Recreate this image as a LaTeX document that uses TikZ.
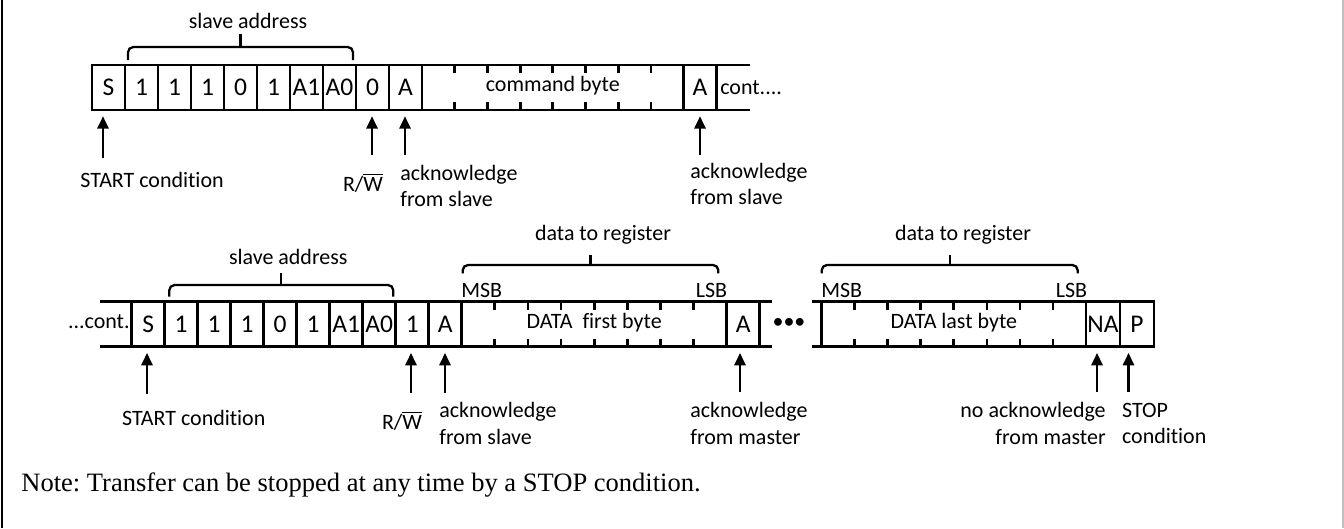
\documentclass[tikz,border=0pt]{standalone}
\usepackage{fontspec}
\setmainfont{Carlito}[Ligatures=NoCommon]
\newfontfamily\notefont{Liberation Serif}
\usetikzlibrary{arrows.meta}
\frenchspacing
\tikzset{
  bit/.style={draw,line width=1.6pt,minimum width=0.66cm,minimum height=0.9cm,inner sep=0pt,outer sep=0pt,font=\fontsize{14.5}{17}\selectfont},
  field/.style={minimum height=0.9cm,inner sep=0pt,outer sep=0pt,font=\fontsize{12.5}{15}\selectfont},
  rail/.style={line width=1.6pt},
  brk/.style={line width=1.3pt,rounded corners=3pt},
  arr/.style={line width=1.6pt,shorten >=3.5pt,-{Triangle[length=0.25cm,width=0.22cm]}},
  lbl/.style={font=\fontsize{12.5}{15}\selectfont,inner sep=0pt,align=left},
}
\begin{document}
\begin{tikzpicture}[x=0.02cm,y=-0.02cm]
\useasboundingbox (0,0) rectangle (1344,528);
\draw[line width=1.2pt] (2,0) -- (2,528);
\draw[line width=1pt,black!25] (1343,0) -- (1343,528);
\draw[rail] (92,65) -- (750,65);
\draw[rail] (92,110) -- (750,110);
\foreach \b [count=\i from 0] in {S,1,1,1,0,1,A1,A0,0,A}
  \node[bit] (t\i) at ({108.5+33*\i},87.5) {\b};
\node[field,minimum width=5.232cm] (tcmd) at (552.8,86) {command byte};
\foreach \k in {1,...,7}
  \draw[rail] ({422+32.7*\k},65) -- ++(0,8) ({422+32.7*\k},110) -- ++(0,-8);
\node[bit] (tack) at (700.1,87.5) {A};
\node[lbl,anchor=west] (tcont) at (720,88) {cont....};
\draw[brk] (128,60) |- (240.5,47) -| (353,60);
\draw[brk] (240.5,47) -- (240.5,34);
\node[lbl] (taddr) at (248,21) {slave address};
\coordinate (ta1) at (103,158);
\coordinate (ta2) at (372,155);
\coordinate (ta3) at (405,155);
\coordinate (ta4) at (700,155);
\draw[arr] (ta1) -- (ta1 |- t0.south);
\draw[arr] (ta2) -- (ta2 |- t8.south);
\draw[arr] (ta3) -- (ta3 |- t9.south);
\draw[arr] (ta4) -- (ta4 |- tack.south);
\node[lbl,anchor=west] (tstart) at (80,180) {START condition};
\node[lbl] (trw) at (363,183) {R/$\overline{\mbox{W}}$};
\node[lbl,anchor=west] (tslv1) at (400,186) {acknowledge\\from slave};
\node[lbl,anchor=west] (tslv2) at (690,184) {acknowledge\\from slave};
\draw[rail] (100,301.7) -- (771.7,301.7);
\draw[rail] (100,346.7) -- (771.7,346.7);
\node[lbl,anchor=east] (bcont) at (130,322) {...cont.};
\foreach \b [count=\i from 0] in {S,1,1,1,0,1,A1,A0,1,A}
  \node[bit] (b\i) at ({148.2+33*\i},324.2) {\b};
\node[field,minimum width=5.3cm] (bdat1) at (594.2,323) {DATA\ \ first byte};
\foreach \k in {1,...,7}
  \draw[rail] ({461.7+33.1*\k},301.7) -- ++(0,8) ({461.7+33.1*\k},346.7) -- ++(0,-8);
\node[bit] (back) at (743.3,324.2) {A};
\node[lbl] (bdots) at (789,323) {•••};
\draw[rail] (811.7,301.7) -- (1154,301.7);
\draw[rail] (811.7,346.7) -- (1154,346.7);
\node[field,minimum width=5.286cm] (bdat2) at (953.85,323) {DATA last byte};
\draw[rail] (bdat2.north west |- 0,301.7) -- (bdat2.south west |- 0,346.7);
\foreach \k in {1,...,7}
  \draw[rail] ({821.7+33.04*\k},301.7) -- ++(0,8) ({821.7+33.04*\k},346.7) -- ++(0,-8);
\node[bit,minimum width=0.68cm] (bna) at (1103,324.2) {NA};
\node[bit,minimum width=0.68cm] (bp) at (1137,324.2) {P};
\draw[brk] (169.3,296.7) |- (281.3,285) -| (393.3,296.7);
\draw[brk] (281.3,285) -- (281.3,273);
\node[lbl] (baddr) at (288.3,256.7) {slave address};
\draw[brk] (462.7,273.3) |- (590.5,265) -| (718.3,273.3);
\draw[brk] (590.5,265) -- (590.5,255);
\node[lbl] (breg1) at (603,235) {data to register};
\draw[brk] (821.7,273.3) |- (949.7,265) -| (1077.7,273.3);
\draw[brk] (949.7,265) -- (949.7,255);
\node[lbl] (breg2) at (963,235) {data to register};
\node[lbl,anchor=west] (bmsb1) at (461,290) {MSB};
\node[lbl,anchor=east] (blsb1) at (727.5,290) {LSB};
\node[lbl,anchor=west] (bmsb2) at (821,290) {MSB};
\node[lbl,anchor=east] (blsb2) at (1087.5,290) {LSB};
\coordinate (ba1) at (147,394);
\coordinate (ba2) at (411,393);
\coordinate (ba3) at (445,393);
\coordinate (ba4) at (740,392);
\coordinate (ba5) at (1097,392);
\coordinate (ba6) at (1128.5,392);
\draw[arr] (ba1) -- (ba1 |- b0.south);
\draw[arr] (ba2) -- (ba2 |- b8.south);
\draw[arr] (ba3) -- (ba3 |- b9.south);
\draw[arr] (ba4) -- (ba4 |- back.south);
\draw[arr] (ba5) -- (ba5 |- bna.south);
\draw[arr] (ba6) -- (ba6 |- bp.south);
\node[lbl,anchor=west] (bstart) at (121.7,418) {START condition};
\node[lbl] (brw) at (402,421) {R/$\overline{\mbox{W}}$};
\node[lbl,anchor=west] (bslv) at (439,423.5) {acknowledge\\from slave};
\node[lbl,anchor=west] (bmst) at (690,423.5) {acknowledge\\from master};
\node[lbl,anchor=east,align=right] (bnack) at (1106,423.5) {no acknowledge\\from master};
\node[lbl,anchor=west] (bstop) at (1121.7,423.5) {STOP\\condition};
\node[anchor=west,inner sep=0pt,font=\notefont\fontsize{15.1}{17}\selectfont] (note) at (21,485) {Note: Transfer can be stopped at any time by a STOP condition.};
\end{tikzpicture}
\end{document}
